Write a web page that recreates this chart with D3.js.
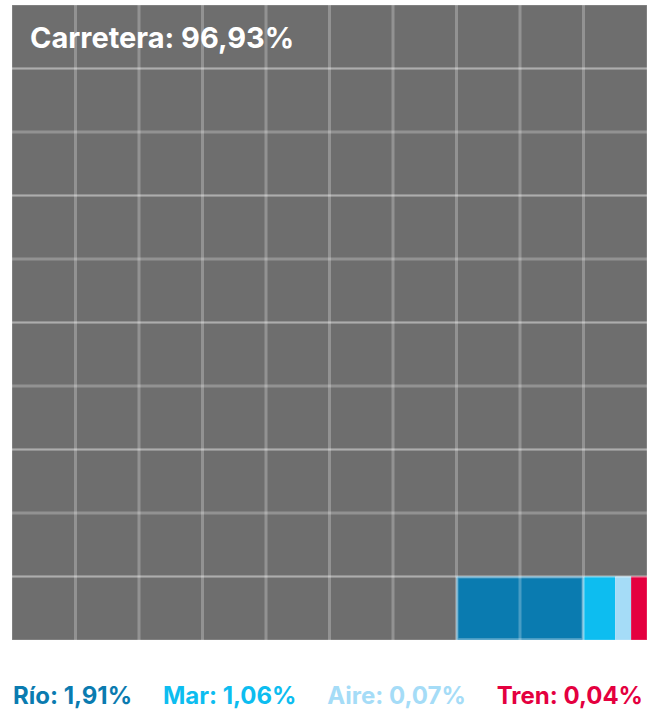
<!DOCTYPE html>
<html>
<head>
<meta charset="utf-8">
<script src="https://cdn.jsdelivr.net/npm/d3@7"></script>
<style>
  body { margin: 0; background: #fff; }
  text { font-family: Inter, "Noto Sans", sans-serif; font-weight: 700; }
</style>
</head>
<body>
<script>
// modes of transport and their share (%)
const modes = ["Carretera", "Río", "Mar", "Aire", "Tren"];
const shares = ["96,93", "1,91", "1,06", "0,07", "0,04"];
// how many of the 100 cells each mode takes (small ones squeezed into the last cell)
const cells = [97, 2, 0.5, 0.25, 0.25];
const colors = ["#6e6e6e", "#0a7bb0", "#0dbdf0", "#a5dcf7", "#e4003f"];

const W = 652, H = 710;
const gridX = 12, gridY = 5, gridSize = 635;
const cols = 10, rows = 10;

const svg = d3.select("body").append("svg")
    .attr("width", W)
    .attr("height", H);

const x = d3.scaleLinear().domain([0, cols]).range([gridX, gridX + gridSize]);
const y = d3.scaleLinear().domain([0, rows]).range([gridY, gridY + gridSize]);

// running cell position for each mode
let start = 0;
const blocks = modes.map((m, i) => {
    const b = {mode: m, share: shares[i], from: start, to: start + cells[i], color: colors[i]};
    start += cells[i];
    return b;
});

// split a block into pieces per row
function pieces(b) {
    const out = [];
    let a = b.from;
    while (a < b.to - 1e-9) {
        const r = Math.floor(a / cols);
        const e = Math.min(b.to, (r + 1) * cols);
        out.push({r: r, c0: a - r * cols, c1: e - r * cols, color: b.color});
        a = e;
    }
    return out;
}

svg.append("g").selectAll("rect")
    .data(blocks.flatMap(pieces))
    .join("rect")
    .attr("x", d => x(d.c0))
    .attr("y", d => y(d.r))
    .attr("width", d => x(d.c1) - x(d.c0))
    .attr("height", d => y(d.r + 1) - y(d.r))
    .attr("fill", d => d.color);

// grid lines
const lines = svg.append("g")
    .attr("stroke", "#fff")
    .attr("stroke-opacity", 0.25)
    .attr("stroke-width", 3);

lines.selectAll("line.v")
    .data(d3.range(1, cols))
    .join("line")
    .attr("class", "v")
    .attr("x1", d => x(d)).attr("x2", d => x(d))
    .attr("y1", y(0)).attr("y2", y(rows));

lines.selectAll("line.h")
    .data(d3.range(1, rows))
    .join("line")
    .attr("class", "h")
    .attr("x1", x(0)).attr("x2", x(cols))
    .attr("y1", d => y(d)).attr("y2", d => y(d));

// light edge around the Río cells
svg.append("rect")
    .attr("x", x(blocks[1].from % cols) + 1)
    .attr("y", y(rows - 1) + 1)
    .attr("width", x(blocks[1].to % cols) - x(blocks[1].from % cols) - 2)
    .attr("height", y(rows) - y(rows - 1) - 2)
    .attr("fill", "none")
    .attr("stroke", "#fff")
    .attr("stroke-opacity", 0.25)
    .attr("stroke-width", 2);

// outer edge
svg.append("rect")
    .attr("x", x(0)).attr("y", y(0))
    .attr("width", gridSize).attr("height", gridSize)
    .attr("fill", "none")
    .attr("stroke", "#fff")
    .attr("stroke-opacity", 0.25)
    .attr("stroke-width", 1);

// big label
svg.append("text")
    .attr("x", 30)
    .attr("y", 48)
    .attr("fill", "#fff")
    .attr("font-size", 29)
    .text(modes[0] + ": " + shares[0] + "%");

// legend, spread across the width
const legend = svg.append("g");
const items = legend.selectAll("text")
    .data(blocks.slice(1))
    .join("text")
    .attr("y", 704)
    .attr("fill", d => d.color)
    .attr("font-size", 24)
    .text(d => d.mode + ": " + d.share + "%");

const widths = items.nodes().map(n => n.getComputedTextLength());
const gap = (643 - 13 - d3.sum(widths)) / (widths.length - 1);
let lx = 13;
items.attr("x", (d, i) => {
    const v = lx;
    lx += widths[i] + gap;
    return v;
});
</script>
</body>
</html>
